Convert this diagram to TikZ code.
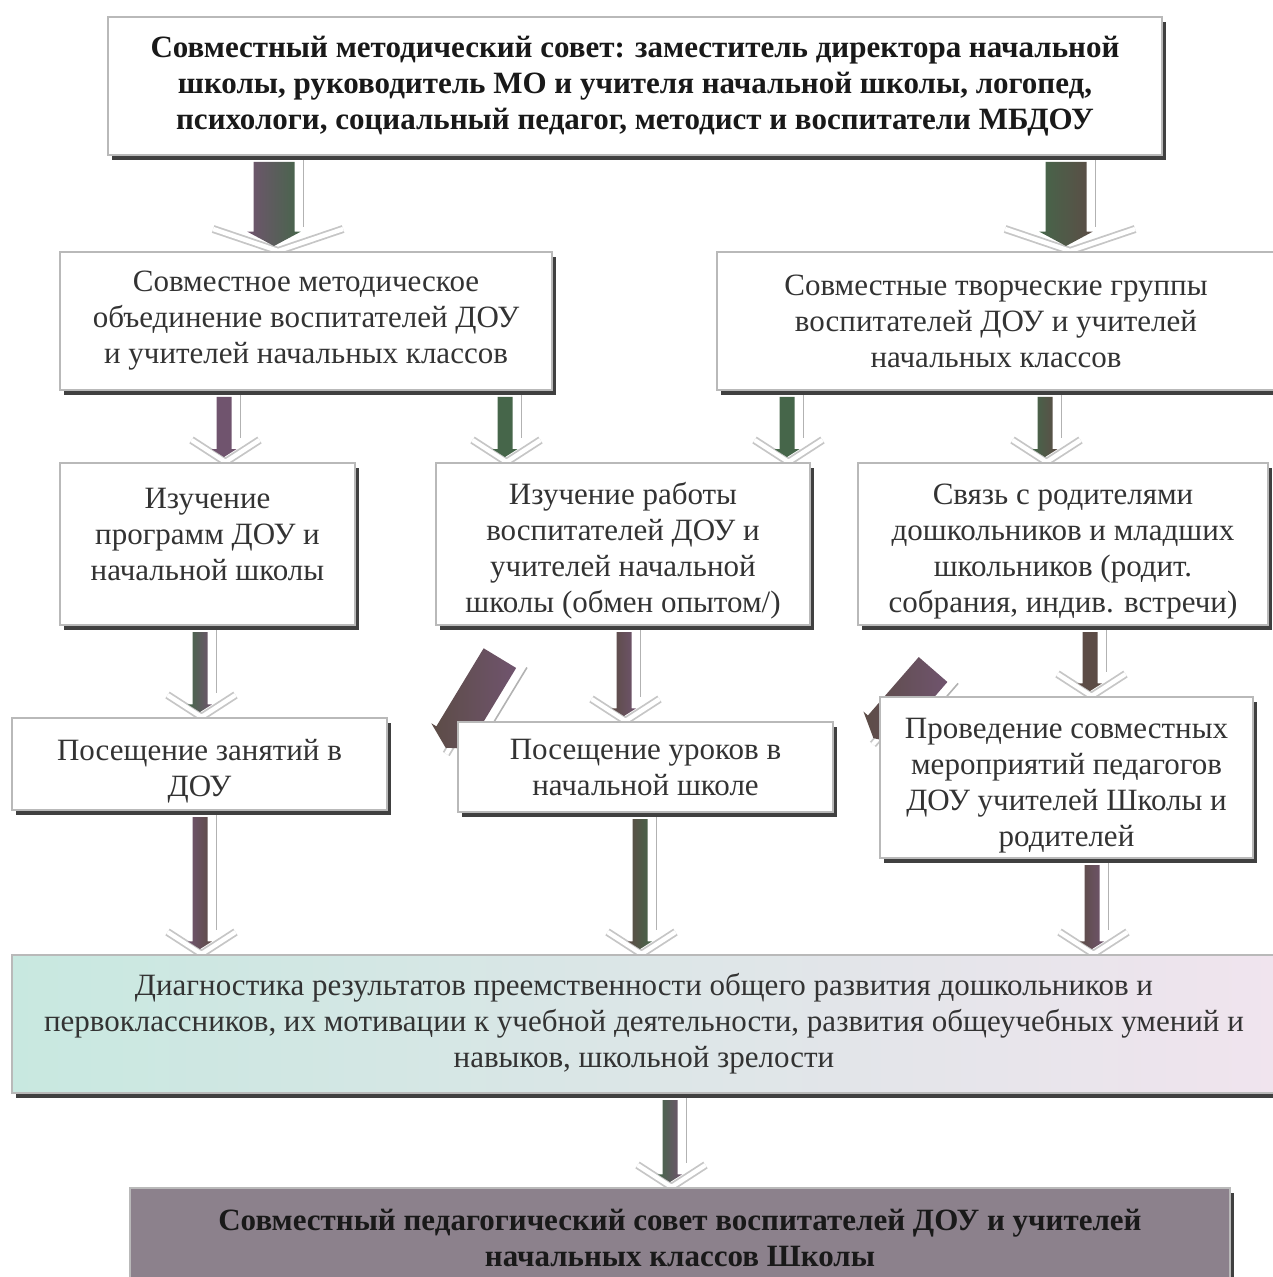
\documentclass[tikz,border=0pt]{standalone}
\usepackage{fontspec}
\setmainfont{Liberation Serif}
\usetikzlibrary{calc, shadows, backgrounds}

\definecolor{plum}{RGB}{112,84,110}
\definecolor{moss}{RGB}{70,102,74}
\definecolor{umber}{RGB}{92,76,70}
\definecolor{mauve}{RGB}{140,129,140}
\definecolor{aqua}{RGB}{200,232,224}
\definecolor{lilac}{RGB}{232,210,232}
\definecolor{blush}{RGB}{240,228,238}

% объёмная стрелка вдоль оси x: длина, ширина, цвет начала, цвет конца, полуширина уголка
\tikzset{
  pics/flowarrow/.style n args={5}{code={
    \pgfmathsetmacro\fL{#1}
    \pgfmathsetmacro\fw{#2/2}
    \pgfmathsetmacro\fh{0.55*#2+2}
    \pgfmathsetmacro\fl{0.25*#2+2}
    \pgfmathsetmacro\fc{#5}
    \pgfmathsetmacro\fo{0.1*#2}
    % уголок
    \draw[gray!45, line width=4pt] (\fL pt-11pt,\fo pt+\fc pt) -- (\fL pt,\fo pt) -- (\fL pt-11pt,\fo pt-\fc pt);
    \draw[white, line width=2.2pt] (\fL pt-11pt,\fo pt+\fc pt) -- (\fL pt,\fo pt) -- (\fL pt-11pt,\fo pt-\fc pt);
    % светлая грань
    \draw[gray!60, line width=0.8pt] (0pt,\fw pt+4.5pt) -- (\fL pt-12pt,\fw pt+4.5pt);
    % тёмный ствол
    \shade[left color=#3, right color=#4] (3pt,-\fw pt) -- (\fL pt-2.5pt-\fl pt,-\fw pt)
      -- (\fL pt-2.5pt-\fl pt,-\fh pt) -- (\fL pt-2.5pt,0pt) -- (\fL pt-2.5pt-\fl pt,\fh pt)
      -- (\fL pt-2.5pt-\fl pt,\fw pt) -- (3pt,\fw pt) -- cycle;
  }},
  box/.style={draw=gray!55, line width=1pt, fill=white, align=center, inner sep=0pt,
    text=black!80, font=\fontsize{15.5}{18}\selectfont,
    drop shadow={shadow xshift=2pt, shadow yshift=-2.5pt, fill=black!75, opacity=1}},
  boldbox/.style={box, text=black!90, font=\fontsize{15.5}{18}\selectfont\bfseries}
}

\newcommand\flow[6]{%
  \path let \p1=($(#2)-(#1)$) in
    \pgfextra{\pgfmathsetmacro\flen{veclen(\x1,\y1)}\pgfmathsetmacro\fang{atan2(\y1,\x1)}%
      \global\let\flowlen\flen \global\let\flowang\fang};
  \pic[rotate=\flowang] at (#1) {flowarrow={\flowlen}{#3}{#4}{#5}{#6}};}
\newcommand\topstrut{\rule{0pt}{18pt}}

\begin{document}
\begin{tikzpicture}[x=0.5pt, y=-0.5pt]
    \useasboundingbox (0,0) rectangle (1272,1277);

    % Блоки
    \node[boldbox, minimum width=527pt, minimum height=69pt] (sovet) at (635,86)
      {Совместный методический совет: заместитель директора начальной\\
       школы, руководитель МО и учителя начальной школы, логопед,\\
       психологи, социальный педагог, методист и воспитатели МБДОУ};

    \node[box, minimum width=246pt, minimum height=69pt] (mo) at (306,321)
      {Совместное методическое\\объединение воспитателей ДОУ\\и учителей начальных классов};
    \node[box, minimum width=279pt, minimum height=69pt] (tg) at (996,321)
      {Совместные творческие группы\\воспитателей ДОУ и учителей\\начальных классов};

    \node[box, minimum width=147.5pt, minimum height=81pt] (prog) at (207.5,544)
      {\topstrut Изучение\\программ ДОУ и\\начальной школы\\ };
    \node[box, minimum width=187pt, minimum height=81pt] (opyt) at (623,544)
      {\topstrut Изучение работы\\воспитателей ДОУ и\\учителей начальной\\школы (обмен опытом/)};
    \node[box, minimum width=205pt, minimum height=81pt] (rod) at (1063,544)
      {\topstrut Связь с родителями\\дошкольников и младших\\школьников (родит.\\собрания, индив. встречи)};

    \node[box, minimum width=187.5pt, minimum height=46pt] (zan) at (199.5,764)
      {\topstrut Посещение занятий в\\ДОУ};
    \node[box, minimum width=187.5pt, minimum height=45pt] (uroki) at (645.5,767)
      {Посещение уроков в\\начальной школе};
    \node[box, minimum width=186.5pt, minimum height=80.5pt] (merop) at (1066.5,777.5)
      {\topstrut Проведение совместных\\мероприятий педагогов\\ДОУ учителей Школы и\\родителей};

    \node[box, left color=aqua, middle color=lilac, right color=blush,
      minimum width=632pt, minimum height=69pt] (diag) at (644,1024)
      {Диагностика результатов преемственности общего развития дошкольников и\\
       первоклассников, их мотивации к учебной деятельности, развития общеучебных умений и\\
       навыков, школьной зрелости};

    \node[boldbox, fill=mauve, minimum width=550pt, minimum height=50pt] (pedsovet) at (680,1238)
      {Совместный педагогический совет воспитателей ДОУ и учителей\\начальных классов Школы};

    % Колонки стрелок
    \foreach \n/\x in {1/274, 2/1066, 3/224, 4/505, 5/787, 6/1045, 7/200, 8/624, 9/1090, 10/640, 11/1092, 12/670}
        \coordinate (k\n) at (\x,0);
    \coordinate (d1s) at (503,653);
    \coordinate (d1e) at (443,752);
    \coordinate (d2s) at (937,665);
    \coordinate (d2e) at (870,742);

    % Стрелки
    \begin{pgfonlayer}{background}
    \flow{sovet.south -| k1}{mo.north -| k1}{20.5}{plum}{moss}{32.5}
    \flow{sovet.south -| k2}{tg.north -| k2}{20.5}{moss}{umber}{32.5}
    \flow{mo.south -| k3}{prog.north -| k3}{7.5}{plum}{plum}{17}
    \flow{mo.south -| k4}{opyt.north -| k4}{7.5}{moss}{moss}{17}
    \flow{tg.south -| k5}{opyt.north -| k5}{7.5}{moss}{moss}{17}
    \flow{tg.south -| k6}{rod.north -| k6}{7.5}{moss}{umber}{17}
    \flow{prog.south -| k7}{zan.north -| k7}{7.5}{moss}{plum}{17}
    \flow{opyt.south -| k8}{uroki.north -| k8}{7.5}{umber}{plum}{17}
    \flow{rod.south -| k9}{merop.north -| k9}{7.5}{umber}{umber}{17}
    \flow{d1s}{d1e}{19}{umber}{plum}{0}
    \flow{d2s}{d2e}{19}{umber}{plum}{0}
    \flow{zan.south -| k7}{diag.north -| k7}{7.5}{plum}{umber}{17}
    \flow{uroki.south -| k10}{diag.north -| k10}{7.5}{umber}{moss}{17}
    \flow{merop.south -| k11}{diag.north -| k11}{7.5}{umber}{plum}{17}
    \flow{diag.south -| k12}{pedsovet.north -| k12}{7.5}{moss}{plum}{17}
    \end{pgfonlayer}

\end{tikzpicture}
\end{document}
